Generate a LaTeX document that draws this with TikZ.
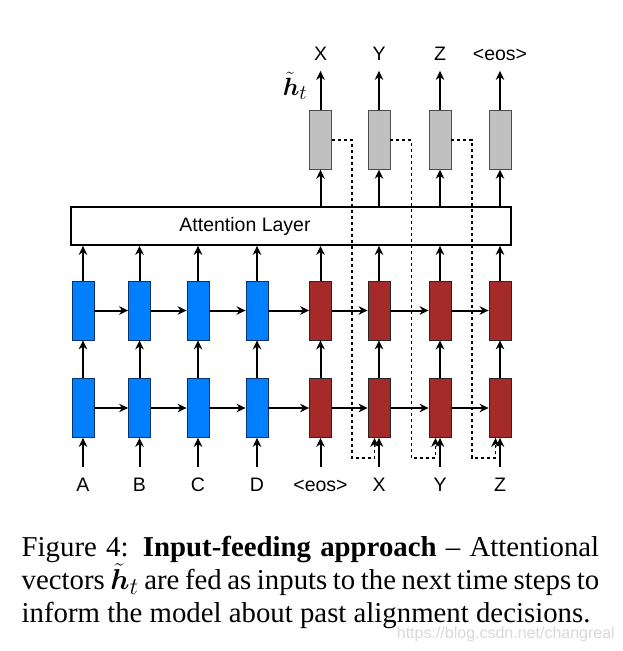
\documentclass[tikz,border=0pt]{standalone}
\usepackage{amsmath,bm}
\usepackage{fontspec}
\setmainfont{Liberation Serif}
\setsansfont{Liberation Sans}
\usetikzlibrary{arrows.meta}
\definecolor{encblue}{RGB}{0,128,255}
\definecolor{encedge}{RGB}{10,50,110}
\definecolor{decred}{RGB}{165,42,42}
\definecolor{outgray}{RGB}{192,192,192}
\newcommand{\htil}{\ensuremath{\tilde{\bm h}_t}}
\begin{document}
\begin{tikzpicture}[x=1pt,y=-1pt,
  cell/.style={draw=black!85, line width=0.8pt, minimum width=22pt, minimum height=59pt, inner sep=0pt},
  enc/.style={cell, fill=encblue, draw=encedge},
  dec/.style={cell, fill=decred},
  outc/.style={cell, fill=outgray, draw=black!70, minimum height=58.6pt},
  arr/.style={-{Stealth[length=9pt,width=8.5pt]}, line width=2pt},
  feed/.style={arr, dash pattern=on 3pt off 3pt, line width=1.5pt},
  lab/.style={font=\sffamily\fontsize{19.5}{20}\selectfont, inner sep=0pt, text height=14pt, text depth=0pt, anchor=base}]
\useasboundingbox (0,0) rectangle (623,651);
\fill[white] (0,0) rectangle (623,651);

% encoder / decoder cells
\foreach \i/\x in {1/83,2/139.5,3/198,4/257} {
  \node[enc] (t\i) at (\x,310.5) {};
  \node[enc] (b\i) at (\x,408) {};
}
\foreach \i/\x in {5/320.5,6/379,7/440,8/500} {
  \node[dec] (t\i) at (\x,310.5) {};
  \node[dec] (b\i) at (\x,408) {};
  \node[outc] (g\i) at (\x,140) {};
}

% attention layer
\node[draw=black, line width=1.8pt, minimum width=440pt, minimum height=38pt, inner sep=0pt] (att) at (291,226) {};
\node[font=\sffamily\fontsize{19.5}{20}\selectfont, inner sep=0pt] (attlab) at (245,226.5) {Attention Layer};

% labels
\foreach \i/\x/\t in {1/83/A,2/139.5/B,3/198/C,4/257/D,5/320.5/{<eos>},6/379/X,7/440/Y,8/500/Z} {
  \node[lab] (in\i) at (\x,491) {\t};
}
\foreach \i/\x/\t in {5/320.5/X,6/379/Y,7/440/Z,8/500/{<eos>}} {
  \node[lab] (o\i) at (\x,60.7) {\t};
}
\node[inner sep=0pt, font=\fontsize{24.88}{26}\selectfont] (ht) at (295,86) {\htil};

% vertical arrows
\foreach \i in {1,...,8} {
  \draw[arr, shorten <=10pt] (in\i.north) -- (b\i.south);
  \draw[arr] (b\i.north) -- (t\i.south);
  \draw[arr] (t\i.north) -- (t\i.north |- att.south);
}
\foreach \i in {5,...,8} {
  \draw[arr] (g\i.south |- att.north) -- (g\i.south);
  \draw[arr, shorten >=10pt] (g\i.north) -- (o\i.south);
}
% horizontal arrows
\foreach \i [evaluate=\i as \j using int(\i+1)] in {1,...,7} {
  \draw[arr] (t\i.east) -- (t\j.west);
  \draw[arr] (b\i.east) -- (b\j.west);
}
% input feeding (dashed)
\foreach \i/\dx [evaluate=\i as \j using int(\i+1)] in {5/352,6/411.5,7/472} {
  \coordinate (d\i) at (\dx,458);
  \coordinate (e\i) at ([xshift=-4.5pt]b\j.south);
  \draw[feed] (g\i.east) -| (d\i) -| (e\i);
}

% caption
\node[anchor=base west, inner sep=0pt] (cap) at (21.5,556) {\parbox[t]{577.5pt}{\fontsize{28.8}{32.5}\selectfont\spaceskip=0.25em plus 0.12em minus 0.08em Figure 4:\enspace\textbf{Input-feeding approach} -- Attentional\linebreak vectors \scalebox{1.157}{\htil} are fed as inputs to the next time steps to\linebreak inform the model about past alignment decisions.}};
\node[anchor=base east, font=\sffamily\fontsize{16}{16}\selectfont, text=gray!30, inner sep=0pt] (wm) at (615,638) {https://blog.csdn.net/changreal};
\end{tikzpicture}
\end{document}
